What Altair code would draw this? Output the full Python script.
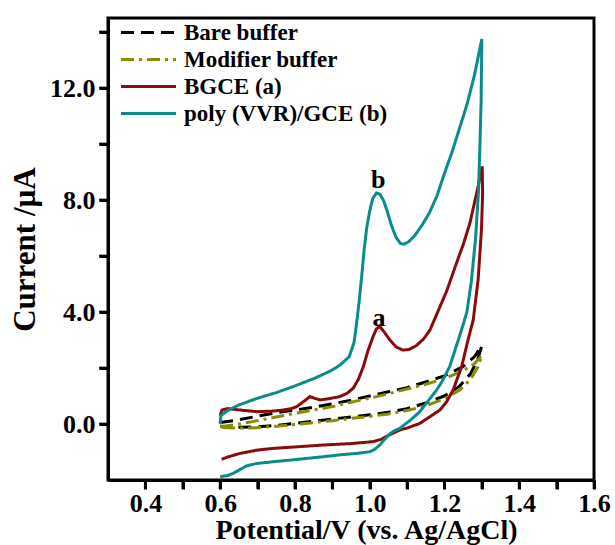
import altair as alt
import pandas as pd

FONT = "Liberation Serif"

series_names = ["Bare buffer", "Modifier buffer", "BGCE (a)", "poly (VVR)/GCE (b)"]
series_colors = ["#000000", "#8c8c00", "#8b0a0a", "#0a8c8c"]

bare_x = [0.60, 0.65, 0.70, 0.75, 0.80, 0.85, 0.90, 0.95, 1.00, 1.05, 1.10, 1.15, 1.20, 1.25, 1.28, 1.30,
          1.29, 1.27, 1.24, 1.20, 1.15, 1.10, 1.05, 1.00, 0.95, 0.90, 0.85, 0.80, 0.75, 0.70, 0.65, 0.60]
bare_y = [0.05, 0.15, 0.28, 0.40, 0.50, 0.60, 0.72, 0.85, 1.00, 1.15, 1.30, 1.50, 1.72, 2.05, 2.40, 2.80,
          2.35, 1.80, 1.35, 1.00, 0.75, 0.55, 0.42, 0.33, 0.25, 0.18, 0.10, 0.02, -0.05, -0.10, -0.12, -0.08]

mod_x = [0.60, 0.65, 0.70, 0.75, 0.80, 0.85, 0.90, 0.95, 1.00, 1.05, 1.10, 1.15, 1.20, 1.25, 1.28, 1.30,
         1.29, 1.27, 1.24, 1.20, 1.15, 1.10, 1.05, 1.00, 0.95, 0.90, 0.85, 0.80, 0.75, 0.70, 0.65, 0.60]
mod_y = [-0.10, 0.00, 0.12, 0.25, 0.38, 0.50, 0.62, 0.78, 0.92, 1.08, 1.25, 1.42, 1.62, 1.90, 2.15, 2.45,
         2.05, 1.60, 1.20, 0.90, 0.65, 0.48, 0.36, 0.27, 0.20, 0.12, 0.05, -0.02, -0.08, -0.13, -0.15, -0.12]

bgce_x = [0.600, 0.605, 0.620, 0.653, 0.698, 0.740, 0.769, 0.790, 0.805, 0.825, 0.840, 0.852, 0.867, 0.890,
          0.920, 0.940, 0.956, 0.970, 0.983, 0.995, 1.009, 1.018, 1.027, 1.038, 1.054, 1.070, 1.088, 1.105,
          1.125, 1.145, 1.161, 1.188, 1.206, 1.232, 1.250, 1.268, 1.290, 1.301,
          1.302, 1.299, 1.290, 1.277, 1.263, 1.246, 1.223, 1.206, 1.188, 1.161, 1.134, 1.099, 1.081, 1.054,
          1.030, 1.009, 0.950, 0.876, 0.800, 0.742, 0.700, 0.653, 0.620, 0.604]
bgce_y = [0.30, 0.50, 0.55, 0.50, 0.44, 0.46, 0.50, 0.55, 0.62, 0.82, 0.98, 0.92, 0.86, 0.90,
          0.98, 1.10, 1.28, 1.60, 2.05, 2.60, 3.12, 3.40, 3.48, 3.30, 3.00, 2.76, 2.64, 2.66,
          2.80, 3.05, 3.35, 4.19, 4.75, 5.74, 6.40, 7.17, 8.48, 9.20,
          8.20, 6.93, 5.15, 3.72, 3.00, 2.05, 1.21, 0.80, 0.50, 0.26, 0.02, -0.15, -0.21, -0.38,
          -0.55, -0.63, -0.70, -0.75, -0.82, -0.87, -0.93, -1.05, -1.18, -1.26]

poly_x = [0.600, 0.602, 0.620, 0.650, 0.700, 0.750, 0.800, 0.850, 0.880, 0.900, 0.920, 0.945, 0.958,
          0.965, 0.972, 0.978, 0.985, 0.992, 1.000, 1.008, 1.018, 1.028, 1.038, 1.048, 1.058, 1.070,
          1.082, 1.092, 1.105, 1.120, 1.140, 1.160, 1.180, 1.200, 1.220, 1.240, 1.260, 1.280, 1.290, 1.300,
          1.298, 1.295, 1.291, 1.283, 1.272, 1.260, 1.250, 1.237, 1.214, 1.195, 1.179, 1.155, 1.134,
          1.110, 1.081, 1.065, 1.054, 1.040, 1.027, 1.012, 1.000, 0.965, 0.920, 0.876, 0.830, 0.787,
          0.740, 0.698, 0.670, 0.650, 0.635, 0.620, 0.600]
poly_y = [0.00, 0.30, 0.48, 0.68, 0.92, 1.12, 1.36, 1.62, 1.80, 1.93, 2.10, 2.40, 2.90,
          3.60, 4.40, 5.20, 6.20, 7.00, 7.60, 8.05, 8.25, 8.20, 7.95, 7.55, 7.10, 6.68,
          6.45, 6.42, 6.52, 6.72, 7.10, 7.55, 8.15, 8.95, 9.70, 10.55, 11.40, 12.45, 13.10, 13.75,
          11.50, 10.00, 8.30, 6.60, 5.10, 4.00, 3.55, 3.00, 2.05, 1.55, 1.21, 0.80, 0.44,
          0.15, -0.15, -0.25, -0.35, -0.55, -0.75, -0.92, -0.99, -1.05, -1.10, -1.17, -1.23, -1.29,
          -1.35, -1.41, -1.50, -1.65, -1.76, -1.84, -1.88]

label_text = ["a", "b"]
label_x = [1.025, 1.023]
label_y = [3.80, 8.70]

x_ticks = [0.4, 0.5, 0.6, 0.7, 0.8, 0.9, 1.0, 1.1, 1.2, 1.3, 1.4, 1.5, 1.6]
y_ticks = [0, 2, 4, 6, 8, 10, 12, 14]
x_min, x_max = 0.3, 1.6
y_min, y_max = -2.0, 14.5

rows = []
for name, xs, ys in [(series_names[0], bare_x, bare_y), (series_names[1], mod_x, mod_y),
                     (series_names[2], bgce_x, bgce_y), (series_names[3], poly_x, poly_y)]:
    for i, (xv, yv) in enumerate(zip(xs, ys)):
        rows.append({"series": name, "E": xv, "I": yv, "idx": i})
df = pd.DataFrame(rows)
labels_df = pd.DataFrame({"t": label_text, "E": label_x, "I": label_y})
xt_df = pd.DataFrame({"v": x_ticks})
yt_df = pd.DataFrame({"v": y_ticks})

xscale = alt.Scale(domain=[x_min, x_max], nice=False, zero=False)
yscale = alt.Scale(domain=[y_min, y_max], nice=False, zero=False)

common_axis = dict(
    ticks=True, domain=True, grid=False,
    domainColor="#000000", domainWidth=3,
    tickColor="#000000", tickWidth=3, tickSize=9, tickOpacity=1,
    labelFont=FONT, labelFontSize=26, labelFontWeight="bold", labelColor="black",
    titleFont=FONT, titleFontWeight="bold", titleColor="black", labelFlush=False,
)

x_axis = alt.Axis(
    values=x_ticks,
    labelExpr="round(datum.value*10)%2==0 ? format(datum.value,'.1f') : ''",
    titleFontSize=28, labelPadding=1, titlePadding=0, titleX=258,
    **common_axis,
)
y_axis = alt.Axis(
    values=y_ticks,
    labelExpr="round(datum.value)%4==0 ? format(datum.value,'.1f') : ''",
    titleFontSize=31, labelPadding=4, titlePadding=8,
    **common_axis,
)

legend = alt.Legend(
    title=None, orient="none", legendX=28, legendY=2, padding=0,
    symbolType="M-2.5,0H2.5", symbolSize=484, symbolStrokeWidth=3, symbolFillColor="transparent",
    labelFont=FONT, labelFontSize=23, labelFontWeight="bold", labelColor="black",
    labelOffset=23, rowPadding=2, labelLimit=400,
)

lines = alt.Chart(df).mark_line(strokeWidth=3, strokeCap="butt").encode(
    x=alt.X("E:Q", scale=xscale, title="Potential/V (vs. Ag/AgCl)", axis=x_axis),
    y=alt.Y("I:Q", scale=yscale, title="Current /µA", axis=y_axis),
    color=alt.Color("series:N", sort=series_names,
                    scale=alt.Scale(domain=series_names, range=series_colors), legend=legend),
    strokeDash=alt.StrokeDash("series:N", sort=series_names,
                              scale=alt.Scale(domain=series_names,
                                              range=[[13, 7], [13, 5, 3, 5], [1, 0], [1, 0]]),
                              legend=legend),
    order=alt.Order("idx:Q"),
    detail="series:N",
)

texts = alt.Chart(labels_df).mark_text(font=FONT, fontSize=26, fontWeight="bold",
                                       color="black", baseline="middle", align="center").encode(
    x=alt.X("E:Q", scale=xscale),
    y=alt.Y("I:Q", scale=yscale),
    text="t:N",
)

# outward tick marks along the bottom and left axes, placed through the shared scales
xtick_marks = alt.Chart(xt_df).mark_tick(orient="vertical", color="black", size=9, thickness=3,
                                         yOffset=4.5, clip=False).encode(
    x=alt.X("v:Q", scale=xscale),
    y=alt.datum(y_min),
)
ytick_marks = alt.Chart(yt_df).mark_tick(orient="horizontal", color="black", size=9, thickness=3,
                                         xOffset=-4.5, clip=False).encode(
    y=alt.Y("v:Q", scale=yscale),
    x=alt.datum(x_min),
)

chart = alt.layer(lines, texts, xtick_marks, ytick_marks).properties(
    width=486, height=462,
    autosize=alt.AutoSizeParams(type="none"),
    padding={"left": 108, "top": 18, "right": 21, "bottom": 65},
    background="white",
).configure_view(
    stroke="black", strokeWidth=3
)

chart.save("out.html", embed_options={"renderer": "svg", "actions": False})
